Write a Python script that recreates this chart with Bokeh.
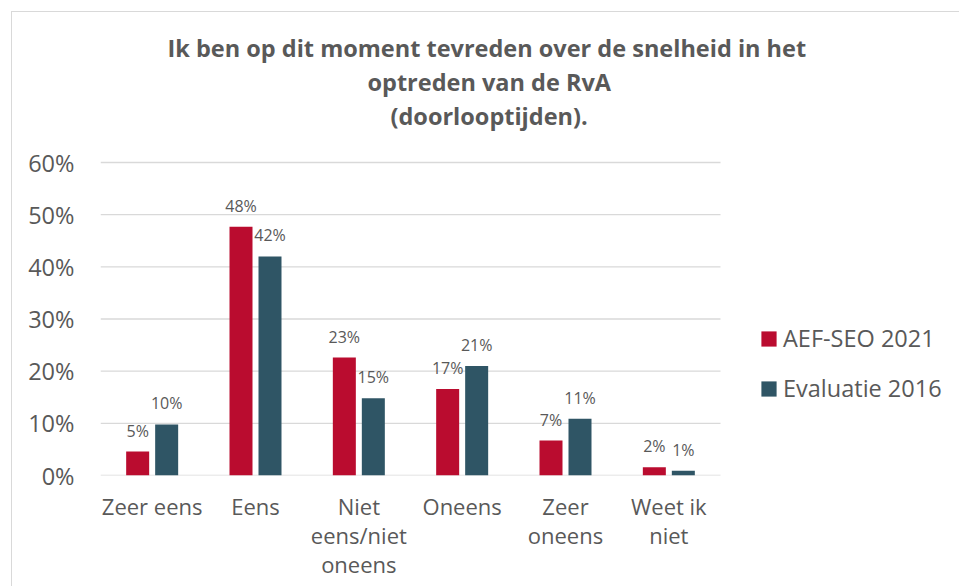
from bokeh.plotting import figure
from bokeh.models import (ColumnDataSource, Range1d, FixedTicker,
                          PrintfTickFormatter, Legend, LegendItem, Title)
from bokeh.transform import dodge
from bokeh.core.properties import value
from bokeh.embed import file_html
from bokeh.resources import INLINE

# ---- data ----
categories = ["Zeer eens", "Eens", "Niet\neens/niet\noneens", "Oneens", "Zeer\noneens", "Weet ik\nniet"]
aef_seo_2021 = [4.6, 47.7, 22.6, 16.6, 6.7, 1.6]
evaluatie_2016 = [9.8, 42.0, 14.8, 21.0, 10.9, 0.9]
series_names = ["AEF-SEO 2021", "Evaluatie 2016"]
y_ticks = [0, 10, 20, 30, 40, 50, 60]
title_lines = ["Ik ben op dit moment tevreden over de snelheid in het",
               "optreden van de RvA",
               "(doorlooptijden)."]

RED = "#BA0C2F"
BLUE = "#2F5565"
GRAY = "#595959"
BORDER = "#d9d9d9"
FONT = "Open Sans"

idx = list(range(len(categories)))
source = ColumnDataSource(dict(
    x=idx,
    a=aef_seo_2021,
    b=evaluatie_2016,
    a_lbl=[f"{round(v)}%" for v in aef_seo_2021],
    b_lbl=[f"{round(v)}%" for v in evaluatie_2016],
))

OX, OY = 12, 12                      # canvas origin on the page (inside grey border)
W, H = 960 - OX, 587 - OY
FL, FT, FB = 100, 131, 475           # frame edges in page pixels (frame runs to right edge)
PLOT_R = 720                         # right end of the category area
Y0, Y60 = 475, 162                   # pixel rows of 0% and 60%

px_per_cat = (PLOT_R - FL) / len(categories)
x_end = -0.5 + (960 - FL) / px_per_cat
y_top = max(y_ticks) * (Y0 - FT) / (Y0 - Y60)

p = figure(width=W, height=H, x_range=Range1d(-0.5, x_end), y_range=Range1d(0, y_top),
           output_backend="svg", toolbar_location=None, title=None,
           min_border_left=FL - OX, min_border_right=0,
           min_border_top=FT - OY, min_border_bottom=H - (FB - OY))
p.margin = (OY - 1, 0, 0, OX - 1)
p.styles = {"border-top": f"1px solid {BORDER}", "border-left": f"1px solid {BORDER}"}
p.outline_line_color = None
p.grid.visible = False

# horizontal gridlines across the category area only
p.segment(x0=[-0.5] * len(y_ticks), x1=[len(categories) - 0.5] * len(y_ticks),
          y0=y_ticks, y1=y_ticks, line_color=BORDER, line_width=1.3)

bw = 0.2226
off = 0.1403
r1 = p.vbar(x=dodge("x", -off), top="a", width=bw, source=source,
            fill_color=RED, line_color=None)
r2 = p.vbar(x=dodge("x", off), top="b", width=bw, source=source,
            fill_color=BLUE, line_color=None)

for col, lbl, o in (("a", "a_lbl", -off), ("b", "b_lbl", off)):
    p.text(x=dodge("x", o), y=col, text=lbl, source=source,
           text_align="center", text_baseline="middle", y_offset=-21,
           text_font=value(FONT), text_font_size="16px", text_color=GRAY)

p.yaxis.ticker = FixedTicker(ticks=y_ticks)
p.yaxis.formatter = PrintfTickFormatter(format="%d%%")
p.xaxis.ticker = FixedTicker(ticks=idx)
p.xaxis.major_label_overrides = {i: c for i, c in zip(idx, categories)}
for ax in (p.xaxis[0], p.yaxis[0]):
    ax.axis_line_color = None
    ax.major_tick_line_color = None
    ax.minor_tick_line_color = None
    ax.major_tick_out = 0
    ax.major_tick_in = 0
    ax.minor_tick_out = 0
    ax.major_label_text_font = FONT
    ax.major_label_text_color = GRAY
p.yaxis.major_label_text_font_size = "23.5px"
p.yaxis.major_label_standoff = 26
p.xaxis.major_label_text_font_size = "22px"
p.xaxis.major_label_standoff = 15
p.xaxis.major_label_text_line_height = 0.98

legend = Legend(items=[LegendItem(label=series_names[0], renderers=[r1]),
                       LegendItem(label=series_names[1], renderers=[r2])],
                location=(659, 71), orientation="vertical",
                glyph_width=19, glyph_height=19, label_standoff=5, spacing=18,
                padding=0, margin=0, border_line_color=None, background_fill_alpha=0,
                label_text_font=FONT, label_text_font_size="23.5px", label_text_color=GRAY)
p.add_layout(legend, "center")

# title: three lines, nearest line added first
left_edges = [167, 367, 390]
for t, lx in reversed(list(zip(title_lines, left_edges))):
    p.add_layout(Title(text=t, align="left", offset=lx - FL, standoff=0,
                       text_font=FONT, text_font_size="23.5px", text_font_style="bold",
                       text_color=GRAY), "above")

open("out.html", "w").write(file_html(p, INLINE))
